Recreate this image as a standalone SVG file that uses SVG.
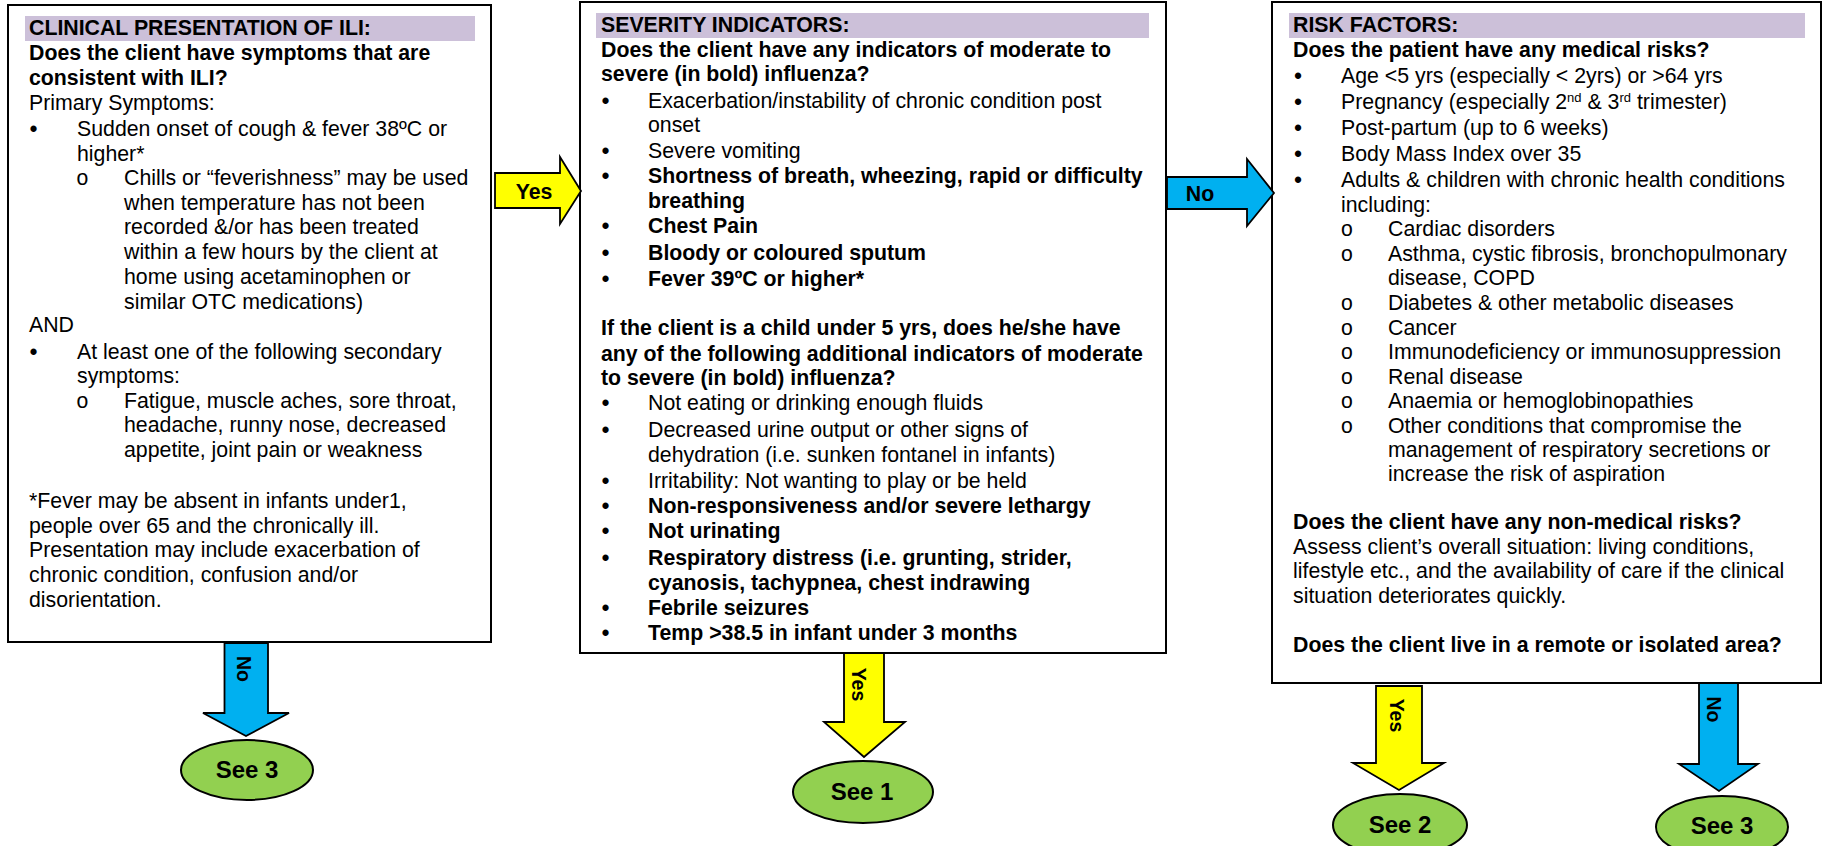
<svg xmlns="http://www.w3.org/2000/svg" width="1822" height="846" viewBox="0 0 1822 846">
<style>
.box{fill:#fff;stroke:#000;stroke-width:2}
.hdr{fill:#CCC0D9}
text{font-family:"Liberation Sans",Arial,sans-serif;font-size:21.3px;fill:#000}
.b{font-weight:bold}
.bul{font-size:23px;text-anchor:middle}
.sub{font-family:"Liberation Mono","Courier New",monospace;text-anchor:middle}
.ay{fill:#FFFF00;stroke:#000;stroke-width:1.8}
.an{fill:#00B0F0;stroke:#000;stroke-width:1.8}
.lbl{font-weight:bold;text-anchor:middle}
.vl{font-weight:bold;font-size:19.5px;text-anchor:middle}
.ell{fill:#92D050;stroke:#000;stroke-width:2}
.et{font-weight:bold;font-size:24px;text-anchor:middle}
</style>

<g id="box-clinical">
<rect class="box" x="8" y="5" width="483" height="637"/>
<rect class="hdr" x="25" y="16" width="450" height="25"/>
<text class="b" x="29" y="35">CLINICAL PRESENTATION OF ILI:</text>
<text class="b" x="29" y="60">Does the client have symptoms that are</text>
<text class="b" x="29" y="85">consistent with ILI?</text>
<text x="29" y="110">Primary Symptoms:</text>
<text class="bul" x="33.5" y="137">•</text>
<text x="77" y="136">Sudden onset of cough &amp; fever 38ºC or</text>
<text x="77" y="161">higher*</text>
<text class="sub" x="82.5" y="185">o</text>
<text x="124" y="185">Chills or “feverishness” may be used</text>
<text x="124" y="210">when temperature has not been</text>
<text x="124" y="234">recorded &amp;/or has been treated</text>
<text x="124" y="259">within a few hours by the client at</text>
<text x="124" y="284">home using acetaminophen or</text>
<text x="124" y="309">similar OTC medications)</text>
<text x="29" y="332">AND</text>
<text class="bul" x="33.5" y="360">•</text>
<text x="77" y="359">At least one of the following secondary</text>
<text x="77" y="383">symptoms:</text>
<text class="sub" x="82.5" y="408">o</text>
<text x="124" y="408">Fatigue, muscle aches, sore throat,</text>
<text x="124" y="432">headache, runny nose, decreased</text>
<text x="124" y="457">appetite, joint pain or weakness</text>
<text x="29" y="508">*Fever may be absent in infants under1,</text>
<text x="29" y="533">people over 65 and the chronically ill.</text>
<text x="29" y="557">Presentation may include exacerbation of</text>
<text x="29" y="582">chronic condition, confusion and/or</text>
<text x="29" y="607">disorientation.</text>
</g>

<g id="box-severity">
<rect class="box" x="580" y="2" width="586" height="651"/>
<rect class="hdr" x="596" y="13" width="553" height="25"/>
<text class="b" x="601" y="32">SEVERITY INDICATORS:</text>
<text class="b" x="601" y="57">Does the client have any indicators of moderate to</text>
<text class="b" x="601" y="81">severe (in bold) influenza?</text>
<text class="bul" x="605.5" y="109">•</text>
<text x="648" y="108">Exacerbation/instability of chronic condition post</text>
<text x="648" y="132">onset</text>
<text class="bul" x="605.5" y="159">•</text>
<text x="648" y="158">Severe vomiting</text>
<text class="bul" x="605.5" y="184">•</text>
<text class="b" x="648" y="183">Shortness of breath, wheezing, rapid or difficulty</text>
<text class="b" x="648" y="208">breathing</text>
<text class="bul" x="605.5" y="234">•</text>
<text class="b" x="648" y="233">Chest Pain</text>
<text class="bul" x="605.5" y="261">•</text>
<text class="b" x="648" y="260">Bloody or coloured sputum</text>
<text class="bul" x="605.5" y="287">•</text>
<text class="b" x="648" y="286">Fever 39ºC or higher*</text>
<text class="b" x="601" y="335">If the client is a child under 5 yrs, does he/she have</text>
<text class="b" x="601" y="361">any of the following additional indicators of moderate</text>
<text class="b" x="601" y="385">to severe (in bold) influenza?</text>
<text class="bul" x="605.5" y="411">•</text>
<text x="648" y="410">Not eating or drinking enough fluids</text>
<text class="bul" x="605.5" y="438">•</text>
<text x="648" y="437">Decreased urine output or other signs of</text>
<text x="648" y="462">dehydration (i.e. sunken fontanel in infants)</text>
<text class="bul" x="605.5" y="489">•</text>
<text x="648" y="488">Irritability: Not wanting to play or be held</text>
<text class="bul" x="605.5" y="514">•</text>
<text class="b" x="648" y="513">Non-responsiveness and/or severe lethargy</text>
<text class="bul" x="605.5" y="539">•</text>
<text class="b" x="648" y="538">Not urinating</text>
<text class="bul" x="605.5" y="566">•</text>
<text class="b" x="648" y="565">Respiratory distress (i.e. grunting, strider,</text>
<text class="b" x="648" y="590">cyanosis, tachypnea, chest indrawing</text>
<text class="bul" x="605.5" y="616">•</text>
<text class="b" x="648" y="615">Febrile seizures</text>
<text class="bul" x="605.5" y="641">•</text>
<text class="b" x="648" y="640">Temp &gt;38.5 in infant under 3 months</text>
</g>

<g id="box-risk">
<rect class="box" x="1272" y="2" width="549" height="681"/>
<rect class="hdr" x="1289" y="13" width="516" height="25"/>
<text class="b" x="1293" y="32">RISK FACTORS:</text>
<text class="b" x="1293" y="57">Does the patient have any medical risks?</text>
<text class="bul" x="1298" y="84">•</text>
<text x="1341" y="83">Age &lt;5 yrs (especially &lt; 2yrs) or &gt;64 yrs</text>
<text class="bul" x="1298" y="110">•</text>
<text x="1341" y="109">Pregnancy (especially 2<tspan font-size="13" baseline-shift="super">nd</tspan> &amp; 3<tspan font-size="13" baseline-shift="super">rd</tspan> trimester)</text>
<text class="bul" x="1298" y="136">•</text>
<text x="1341" y="135">Post-partum (up to 6 weeks)</text>
<text class="bul" x="1298" y="162">•</text>
<text x="1341" y="161">Body Mass Index over 35</text>
<text class="bul" x="1298" y="188">•</text>
<text x="1341" y="187">Adults &amp; children with chronic health conditions</text>
<text x="1341" y="212">including:</text>
<text class="sub" x="1347" y="236">o</text>
<text x="1388" y="236">Cardiac disorders</text>
<text class="sub" x="1347" y="261">o</text>
<text x="1388" y="261">Asthma, cystic fibrosis, bronchopulmonary</text>
<text x="1388" y="285">disease, COPD</text>
<text class="sub" x="1347" y="310">o</text>
<text x="1388" y="310">Diabetes &amp; other metabolic diseases</text>
<text class="sub" x="1347" y="335">o</text>
<text x="1388" y="335">Cancer</text>
<text class="sub" x="1347" y="359">o</text>
<text x="1388" y="359">Immunodeficiency or immunosuppression</text>
<text class="sub" x="1347" y="384">o</text>
<text x="1388" y="384">Renal disease</text>
<text class="sub" x="1347" y="408">o</text>
<text x="1388" y="408">Anaemia or hemoglobinopathies</text>
<text class="sub" x="1347" y="433">o</text>
<text x="1388" y="433">Other conditions that compromise the</text>
<text x="1388" y="457">management of respiratory secretions or</text>
<text x="1388" y="481">increase the risk of aspiration</text>
<text class="b" x="1293" y="529">Does the client have any non-medical risks?</text>
<text x="1293" y="554">Assess client’s overall situation: living conditions,</text>
<text x="1293" y="578">lifestyle etc., and the availability of care if the clinical</text>
<text x="1293" y="603">situation deteriorates quickly.</text>
<text class="b" x="1293" y="652">Does the client live in a remote or isolated area?</text>
</g>

<g id="see3-left">
<ellipse class="ell" cx="247" cy="770" rx="66" ry="30"/>
<text class="et" x="247" y="778">See 3</text>
</g>
<g id="see1">
<ellipse class="ell" cx="863" cy="792" rx="70" ry="31"/>
<text class="et" x="862" y="800">See 1</text>
</g>
<g id="see2">
<ellipse class="ell" cx="1400" cy="825" rx="67" ry="31"/>
<text class="et" x="1400" y="833">See 2</text>
</g>
<g id="see3-right">
<ellipse class="ell" cx="1722" cy="827" rx="66" ry="31"/>
<text class="et" x="1722" y="834">See 3</text>
</g>

<g id="connectors">
<polygon class="ay" points="495,173 560,173 560,157 581,191 560,224 560,208 495,208"/>
<text class="lbl" x="534" y="199">Yes</text>
<polygon class="an" points="1167,177 1247,177 1247,159 1274,193 1247,226 1247,209 1167,209"/>
<text class="lbl" x="1200" y="201">No</text>
<polygon class="an" points="224.5,643 268,643 268,713 289,713 246,736 203,713 224.5,713"/>
<text class="vl" transform="translate(237,669) rotate(90)">No</text>
<polygon class="ay" points="844,653 884,653 884,722 905,722 864,757 824,722 844,722"/>
<text class="vl" transform="translate(852,684.5) rotate(90)">Yes</text>
<polygon class="ay" points="1376,686 1422,686 1422,763 1444,763 1399,790 1353,763 1376,763"/>
<text class="vl" transform="translate(1390,715.5) rotate(90)">Yes</text>
<polygon class="an" points="1699,683 1738,683 1738,764 1758,764 1719,791 1679,764 1699,764"/>
<text class="vl" transform="translate(1707,709.5) rotate(90)">No</text>
</g>
</svg>
